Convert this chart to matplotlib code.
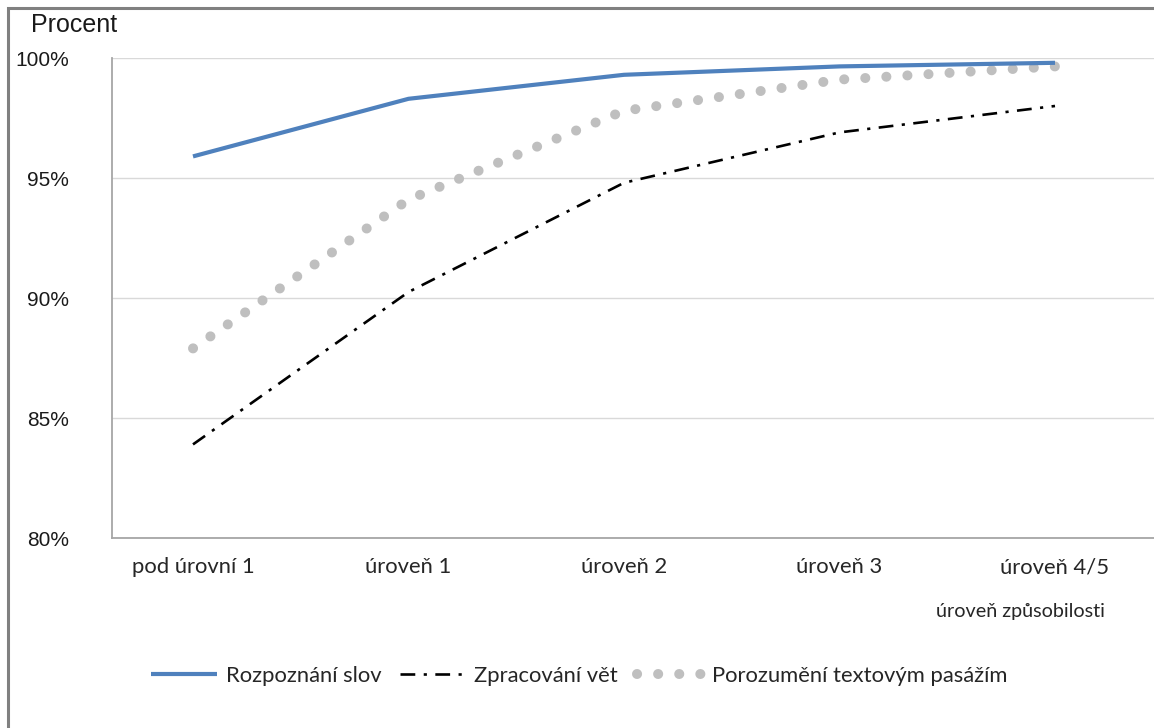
import matplotlib
matplotlib.use("Agg")
import matplotlib.pyplot as plt
from matplotlib.patches import Rectangle
from matplotlib.ticker import FuncFormatter

categories = ["pod úrovní 1", "úroveň 1", "úroveň 2", "úroveň 3", "úroveň 4/5"]
rozpoznani = [95.9, 98.3, 99.3, 99.65, 99.8]
zpracovani = [83.9, 90.25, 94.8, 96.9, 98.0]
porozumeni = [87.9, 94.1, 97.8, 99.1, 99.65]
series_names = ["Rozpoznání slov", "Zpracování vět", "Porozumění textovým pasážím"]
y_ticks = [80, 85, 90, 95, 100]

W, H = 1154, 728
fig = plt.figure(figsize=(W / 100, H / 100), dpi=100)
fig.patches.append(Rectangle((8 / W, -0.1), 1.2, 1 - 8 / H + 0.1, transform=fig.transFigure,
                             fill=False, edgecolor="#808080", linewidth=2.2))

ax = fig.add_axes([112 / W, 1 - 538 / H, 1 - 112 / W, (538 - 58) / H])
x = list(range(len(categories)))

ax.plot(x, rozpoznani, color="#4F81BD", lw=3.0, solid_capstyle="butt", label=series_names[0], zorder=3)
ax.plot(x, zpracovani, color="black", lw=1.9, linestyle=(0, (5.6, 3.2, 1.2, 3.2)),
        dash_capstyle="butt", label=series_names[1], zorder=3)
ax.plot(x, porozumeni, color="#BFBFBF", lw=7.2, linestyle=(0, (0.01, 2.1)),
        dash_capstyle="round", label=series_names[2], zorder=2)

ax.set_xlim(-81 / 215.5, (1154 - 193) / 215.5)
ax.set_ylim(80, 100)
ax.set_yticks(y_ticks)
ax.yaxis.set_major_formatter(FuncFormatter(lambda v, p: f"{v:.0f}%"))
ax.grid(axis="y", color="#D9D9D9", lw=1.0)
ax.set_axisbelow(True)
for s in ["top", "right"]:
    ax.spines[s].set_visible(False)
ax.spines["left"].set_color("#A6A6A6")
ax.spines["bottom"].set_color("#A6A6A6")
ax.spines["left"].set_linewidth(1.3)
ax.spines["bottom"].set_linewidth(1.3)
ax.tick_params(axis="both", length=0)
ax.tick_params(axis="y", pad=31, labelsize=15, labelcolor="#1a1a1a")
for lab in ax.get_yticklabels():
    lab.set_fontfamily("Liberation Sans")
ax.set_xticks(x)
ax.set_xticklabels(categories, fontsize=15.8, fontfamily="Lato", color="#262626")
ax.tick_params(axis="x", pad=14)

fig.text(31 / W, 1 - 25 / H, "Procent", fontsize=18, fontfamily="Liberation Sans",
         va="center", ha="left", color="#1a1a1a")
fig.text(1105 / W, 1 - 611 / H, "úroveň způsobilosti", fontsize=14.2, fontfamily="Lato",
         va="center", ha="right", color="#262626")

leg = fig.legend(loc="center", bbox_to_anchor=(579 / W, 1 - 676 / H), ncol=3, frameon=False,
                 prop={"family": "Lato", "size": 15.8}, handlelength=3.0, handletextpad=0.4,
                 columnspacing=0.85, borderpad=0, borderaxespad=0)
for t in leg.get_texts():
    t.set_color("#262626")

fig.savefig("out.png", dpi=100)
